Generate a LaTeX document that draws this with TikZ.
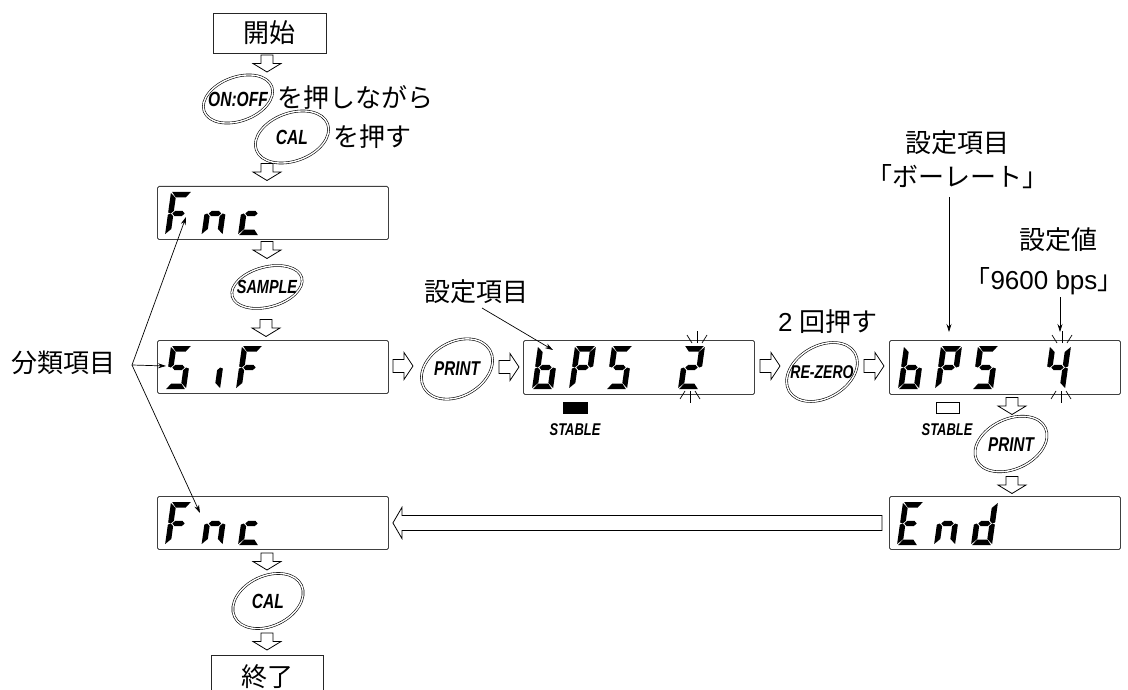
\documentclass[tikz,border=0pt]{standalone}
\usepackage{fontspec}
\usetikzlibrary{shapes.geometric,arrows.meta,calc}
\newfontfamily\jp{Noto Sans CJK JP}
\newfontfamily\lsans{Liberation Sans}
\newfontfamily\btnf[FakeStretch=0.76]{Liberation Sans}

% seven-segment pieces (local coords, y up, width 21, height 43)
\newcommand\SegA{\fill (1.2,43)--(19.8,43)--(15.5,37.5)--(5.5,37.5)--cycle;}
\newcommand\SegD{\fill (1.2,0)--(19.8,0)--(15.5,5.5)--(5.5,5.5)--cycle;}
\newcommand\SegG{\fill (4.3,21.5)--(7,24.2)--(14,24.2)--(16.7,21.5)--(14,18.8)--(7,18.8)--cycle;}
\newcommand\SegF{\fill (0,42)--(0,22.6)--(2.75,21.5)--(5.5,24.2)--(5.5,37)--cycle;}
\newcommand\SegB{\fill (21,42)--(21,22.6)--(18.25,21.5)--(15.5,24.2)--(15.5,37)--cycle;}
\newcommand\SegE{\fill (0,1)--(0,20.4)--(2.75,21.5)--(5.5,18.8)--(5.5,6)--cycle;}
\newcommand\SegC{\fill (21,1)--(21,20.4)--(18.25,21.5)--(15.5,18.8)--(15.5,6)--cycle;}
\newcommand\sgF{\SegA\SegF\SegG\SegE}
\newcommand\sgn{\SegG\SegE\SegC}
\newcommand\sgc{\SegG\SegE\SegD}
\newcommand\sgS{\SegA\SegF\SegG\SegC\SegD}
\newcommand\sgi{\SegC}
\newcommand\sgb{\SegF\SegE\SegG\SegC\SegD}
\newcommand\sgP{\SegA\SegB\SegF\SegG\SegE}
\newcommand\sgtwo{\SegA\SegB\SegG\SegE\SegD}
\newcommand\sgfour{\SegF\SegG\SegB\SegC}
\newcommand\sgE{\SegA\SegF\SegG\SegE\SegD}
\newcommand\sgd{\SegB\SegC\SegG\SegE\SegD}
% #1 x of bottom-left, #2 y of bottom (outer coords), #3 segments
\newcommand\sevseg[3]{\begin{scope}[shift={(#1,#2)},x=1pt,y=1pt,xslant=0.14]#3\end{scope}}
% blinking rays: #1 x top, #2 y top, #3 x bottom, #4 y bottom
\newcommand\blinkrays[4]{%
  \draw[ray] (#1,#2+3) -- (#1,#2-9);
  \draw[ray] (#1-5,#2+3) -- (#1-10,#2-5);
  \draw[ray] (#1+5,#2+3) -- (#1+10,#2-5);
  \draw[ray] (#3,#4-3) -- (#3,#4+9);
  \draw[ray] (#3-5,#4-3) -- (#3-10,#4+5);
  \draw[ray] (#3+5,#4-3) -- (#3+10,#4+5);}

\begin{document}
\begin{tikzpicture}[x=1pt,y=-1pt,
  disp/.style={draw=black!75, line width=0.9pt, rounded corners=1.5pt, minimum width=231pt, minimum height=53pt, inner sep=0, anchor=north west},
  tbox/.style={draw=black!85, line width=0.8pt, inner sep=0, font=\jp\fontsize{26}{30}\selectfont},
  btn/.style={ellipse, draw, double, line width=0.6pt, double distance=1.4pt, inner sep=0},
  btntext/.style={inner sep=0, font=\btnf\bfseries\itshape\fontsize{#1}{#1}\selectfont},
  jtext/.style={inner sep=0, font=\jp\fontsize{26}{30}\selectfont},
  blk/.style={draw, line width=0.8pt, fill=white, line join=miter},
  lbl/.style={line width=0.7pt, -{Stealth[length=8pt,width=5pt]}},
  ray/.style={line width=0.7pt},
  pics/dnarr/.style={code={\draw[blk] (-6,-8.5) -- (6,-8.5) -- (6,0) -- (14,0) -- (0,8.5) -- (-14,0) -- (-6,0) -- cycle;}},
  pics/rtarr/.style={code={\draw[blk] (-10,-6.5) -- (1,-6.5) -- (1,-13.5) -- (10,0) -- (1,13.5) -- (1,6.5) -- (-10,6.5) -- cycle;}},
]
\useasboundingbox (0,0) rectangle (1128,690);
\fill[white] (0,0) rectangle (1128,690);
\clip (0,0) rectangle (1128,690);

% ---- start / end boxes
\node[tbox, minimum width=113pt, minimum height=40pt] (start) at (269.5,33) {開始};
\node[tbox, minimum width=112pt, minimum height=42pt, anchor=north] (fin) at (267,655) {終了};

% ---- buttons
\node[btn, minimum width=72pt, minimum height=44pt, rotate=20] (onoffE) at (238,99) {};
\node[btntext=20.5] (onoff) at (238,99) {ON:OFF};
\node[jtext, anchor=west] (t1) at (277,98) {を押しながら};

\node[btn, minimum width=76pt, minimum height=48pt, rotate=20] (cal1E) at (292,137) {};
\node[btntext=20.5] (cal1) at (292,137) {CAL};
\node[jtext, anchor=west] (t2) at (333,137) {を押す};

\node[btn, minimum width=72pt, minimum height=40pt, rotate=15] (sampleE) at (267,287) {};
\node[btntext=19] (sample) at (267,287) {SAMPLE};

\node[btn, minimum width=76pt, minimum height=54pt, rotate=30] (print1E) at (457,369) {};
\node[btntext=20] (print1) at (457,369) {PRINT};

\node[btn, minimum width=76pt, minimum height=52pt, rotate=30] (rezeroE) at (822,372) {};
\node[btntext=18.5] (rezero) at (822,372) {RE-ZERO};

\node[btn, minimum width=76pt, minimum height=50pt, rotate=25] (print2E) at (1011,444) {};
\node[btntext=20] (print2) at (1011,445) {PRINT};

\node[btn, minimum width=74pt, minimum height=50pt, rotate=25] (cal2E) at (268,601) {};
\node[btntext=20.5] (cal2) at (268,601) {CAL};

% ---- displays
\node[disp] (fnc1) at (157,186) {};
\sevseg{165}{235}{\sgF}\sevseg{201.5}{235}{\sgn}\sevseg{238}{235}{\sgc}

\node[disp] (sif) at (157,340) {};
\sevseg{165}{389}{\sgS}\sevseg{199}{389}{\sgi}\sevseg{236}{389}{\sgF}

\node[disp, minimum height=54pt] (bps2) at (523,340) {};
\sevseg{532}{389}{\sgb}\sevseg{569}{389}{\sgP}\sevseg{606}{389}{\sgS}\sevseg{678}{389}{\sgtwo}
\blinkrays{697}{340}{690}{394}

\node[disp, minimum height=54pt] (bps4) at (889,340) {};
\sevseg{898}{389}{\sgb}\sevseg{935}{389}{\sgP}\sevseg{972}{389}{\sgS}\sevseg{1044}{389}{\sgfour}
\blinkrays{1062}{340}{1061}{394}

\node[disp] (fnc2) at (157,496) {};
\sevseg{165}{545}{\sgF}\sevseg{201.5}{545}{\sgn}\sevseg{238}{545}{\sgc}

\node[disp] (endd) at (889,496) {};
\sevseg{897}{545}{\sgE}\sevseg{934}{545}{\sgn}\sevseg{971}{545}{\sgd}

% ---- STABLE indicators
\node[fill, minimum width=25pt, minimum height=12pt, inner sep=0] (st1) at (575.5,408) {};
\node[btntext=17] (st1t) at (575,430) {STABLE};
\node[draw, line width=0.8pt, minimum width=23pt, minimum height=11pt, inner sep=0] (st2) at (947.5,407.5) {};
\node[btntext=17] (st2t) at (947,430) {STABLE};

% ---- block arrows
\pic at (267,63.5) {dnarr};
\pic at (267,172) {dnarr};
\pic at (267,250) {dnarr};
\pic at (266,328) {dnarr};
\pic at (1012,406) {dnarr};
\pic at (1012,485) {dnarr};
\pic at (267,561.5) {dnarr};
\pic at (267,641.5) {dnarr};
\pic at (403,366) {rtarr};
\pic at (509,367) {rtarr};
\pic at (770,366) {rtarr};
\pic at (874,366) {rtarr};

% long return arrow End -> Fnc
\draw[blk] ($(endd.west)+(-7,-7.5)$) -- ($(fnc2.east)+(13,-7.5)$) -- ($(fnc2.east)+(13,-15.5)$)
  -- ($(fnc2.east)+(4,0)$) -- ($(fnc2.east)+(13,15.5)$) -- ($(fnc2.east)+(13,7.5)$)
  -- ($(endd.west)+(-7,7.5)$) -- cycle;

% ---- labels
\node[jtext] (cat) at (64,363) {分類項目};
\coordinate (apex) at (132,365);
\coordinate (pF1) at (186,217);
\coordinate (pS) at (166,366);
\coordinate (pF2) at (200,513);
\draw[lbl] (apex) -- (pF1);
\draw[lbl] (apex) -- (pS);
\draw[lbl] (apex) -- (pF2);

\node[jtext] (lab1) at (476,292) {設定項目};
\coordinate (q1s) at (482,308);
\coordinate (q1e) at (553,350);
\draw[lbl] (q1s) -- (q1e);

\node[jtext] (twice) at (828,322) {{\lsans 2 }回押す};

\node[jtext] (lab2) at (957,143) {設定項目};
\node[jtext] (lab2b) at (957,177) {「ボーレート」};
\coordinate (q2s) at (949,197);
\coordinate (q2e) at (949,332);
\draw[lbl] (q2s) -- (q2e);

\node[jtext] (lab3) at (1058,240) {設定値};
\node[jtext] (lab3b) at (1044,281) {「{\lsans 9600 bps}」};
\coordinate (q3s) at (1060,297);
\coordinate (q3e) at (1060,332);
\draw[lbl] (q3s) -- (q3e);
\end{tikzpicture}
\end{document}
